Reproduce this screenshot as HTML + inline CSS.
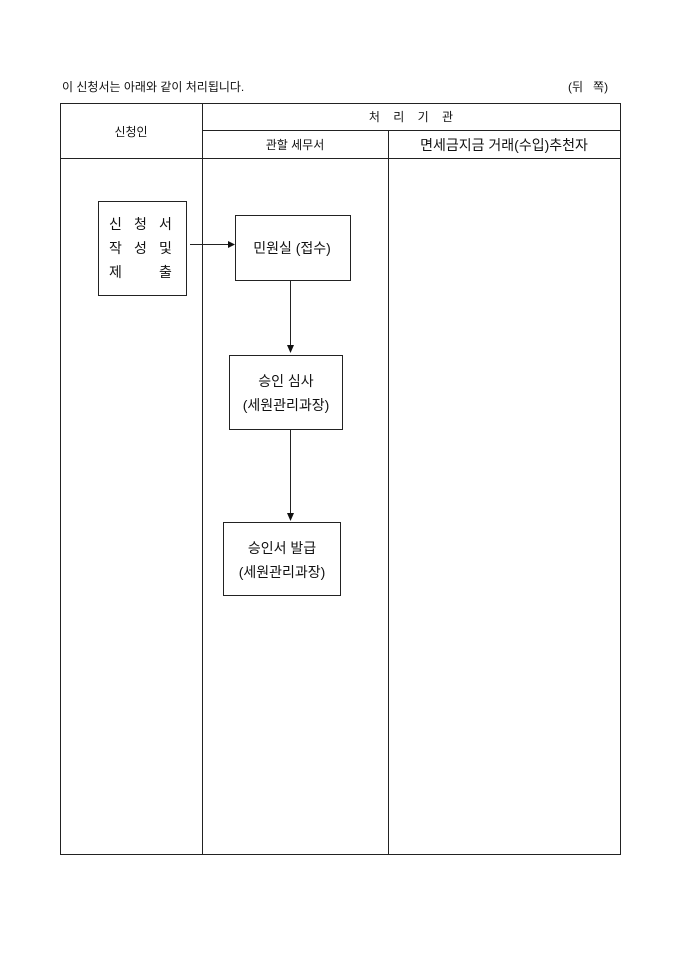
<!DOCTYPE html><html><head><meta charset="utf-8"><style>body{margin:0;background:#fff}svg{display:block}text{font-family:"Liberation Sans","Noto Sans CJK KR","NanumGothic",sans-serif;fill:#111}</style></head><body>
<svg width="680" height="962" xmlns="http://www.w3.org/2000/svg">
<g stroke="#222" stroke-width="1" fill="none">
<rect x="60.5" y="103.5" width="560" height="751"/>
<line x1="202.5" y1="103" x2="202.5" y2="854"/>
<line x1="388.5" y1="130" x2="388.5" y2="854"/>
<line x1="202" y1="130.5" x2="620" y2="130.5"/>
<line x1="60" y1="158.5" x2="620" y2="158.5"/>
<rect x="98.5" y="201.5" width="88" height="94"/>
<rect x="235.5" y="215.5" width="115" height="65"/>
<rect x="229.5" y="355.5" width="113" height="74"/>
<rect x="223.5" y="522.5" width="117" height="73"/>
<line x1="190" y1="244.5" x2="229" y2="244.5"/>
<line x1="290.5" y1="281" x2="290.5" y2="346"/>
<line x1="290.5" y1="430" x2="290.5" y2="515"/>
</g>
<g fill="#111">
<polygon points="235,244.5 228,241 228,248"/>
<polygon points="290.5,353 287,345 294,345"/>
<polygon points="290.5,521 287,513 294,513"/>
</g>
<text x="62" y="91" font-size="12">이 신청서는 아래와 같이 처리됩니다.</text>
<text x="568" y="91" font-size="12">(뒤&#160;&#160;&#160;쪽)</text>
<text x="411" y="121" font-size="12" text-anchor="middle">처&#160;&#160;&#160;&#160;리&#160;&#160;&#160;&#160;기&#160;&#160;&#160;&#160;관</text>
<text x="131" y="136" font-size="12" text-anchor="middle">신청인</text>
<text x="295" y="149" font-size="12" text-anchor="middle">관할 세무서</text>
<text x="504" y="150" font-size="14" text-anchor="middle">면세금지금 거래(수입)추천자</text>
<text font-size="14"><tspan x="109" y="229">신</tspan><tspan x="134" y="229">청</tspan><tspan x="159" y="229">서</tspan><tspan x="109" y="253">작</tspan><tspan x="134" y="253">성</tspan><tspan x="159" y="253">및</tspan><tspan x="109" y="277">제</tspan><tspan x="159" y="277">출</tspan></text>
<text x="292" y="253" font-size="14" text-anchor="middle">민원실 (접수)</text>
<text x="286" y="386" font-size="14" text-anchor="middle">승인 심사</text>
<text x="286" y="410" font-size="14" text-anchor="middle">(세원관리과장)</text>
<text x="282" y="553" font-size="14" text-anchor="middle">승인서 발급</text>
<text x="282" y="577" font-size="14" text-anchor="middle">(세원관리과장)</text>
</svg>
</body></html>
